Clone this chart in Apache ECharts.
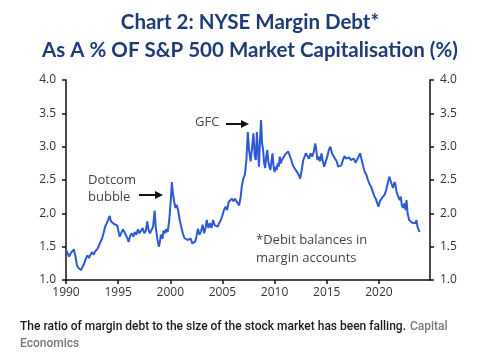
<!DOCTYPE html>
<html><head><meta charset="utf-8">
<script src="https://cdn.jsdelivr.net/npm/echarts@6/dist/echarts.min.js"></script>
<style>html,body{margin:0;padding:0;background:#fff;}#c{width:500px;height:360px;}</style>
</head><body><div id="c"></div>
<script>
var years = [1990.0,1990.1,1990.3,1990.45,1990.6,1990.75,1990.9,1991.05,1991.2,1991.3,1991.45,1991.6,1991.75,1991.9,1992.05,1992.2,1992.35,1992.5,1992.65,1992.8,1993.0,1993.15,1993.3,1993.45,1993.6,1993.75,1993.9,1994.05,1994.2,1994.3,1994.45,1994.6,1994.75,1994.9,1995.05,1995.15,1995.3,1995.45,1995.6,1995.75,1995.9,1996.0,1996.15,1996.3,1996.45,1996.6,1996.75,1996.9,1997.05,1997.2,1997.35,1997.5,1997.65,1997.8,1997.9,1998.05,1998.2,1998.35,1998.5,1998.6,1998.75,1998.9,1999.0,1999.1,1999.25,1999.35,1999.5,1999.6,1999.75,1999.9,2000.05,2000.15,2000.25,2000.4,2000.5,2000.6,2000.75,2000.9,2001.05,2001.2,2001.35,2001.5,2001.65,2001.8,2001.95,2002.1,2002.25,2002.4,2002.5,2002.65,2002.8,2002.95,2003.1,2003.25,2003.4,2003.5,2003.65,2003.8,2003.95,2004.1,2004.25,2004.4,2004.55,2004.7,2004.85,2005.0,2005.15,2005.3,2005.45,2005.6,2005.75,2005.9,2006.05,2006.2,2006.35,2006.5,2006.6,2006.75,2006.85,2007.0,2007.15,2007.3,2007.43,2007.55,2007.7,2007.85,2007.97,2008.1,2008.2,2008.3,2008.4,2008.5,2008.6,2008.7,2008.8,2008.9,2009.0,2009.1,2009.2,2009.3,2009.4,2009.5,2009.6,2009.7,2009.8,2009.9,2010.0,2010.1,2010.2,2010.3,2010.4,2010.5,2010.6,2010.7,2010.85,2011.0,2011.15,2011.3,2011.45,2011.6,2011.75,2011.9,2012.0,2012.15,2012.3,2012.45,2012.6,2012.75,2012.9,2013.0,2013.15,2013.3,2013.45,2013.6,2013.75,2013.9,2014.0,2014.1,2014.25,2014.35,2014.5,2014.6,2014.75,2014.9,2015.05,2015.2,2015.35,2015.5,2015.65,2015.8,2015.95,2016.1,2016.25,2016.4,2016.55,2016.7,2016.85,2017.0,2017.15,2017.3,2017.45,2017.6,2017.75,2017.9,2018.05,2018.2,2018.35,2018.5,2018.65,2018.8,2018.95,2019.1,2019.25,2019.4,2019.55,2019.7,2019.85,2019.95,2020.1,2020.25,2020.4,2020.55,2020.7,2020.85,2021.0,2021.1,2021.2,2021.35,2021.5,2021.6,2021.7,2021.85,2022.0,2022.1,2022.2,2022.3,2022.45,2022.55,2022.65,2022.75,2022.9,2023.05,2023.2,2023.35,2023.5,2023.6,2023.7,2023.8,2023.9];
var ratio = [1.45,1.42,1.35,1.40,1.38,1.46,1.36,1.22,1.18,1.20,1.15,1.20,1.25,1.32,1.37,1.33,1.38,1.42,1.38,1.43,1.46,1.48,1.57,1.62,1.70,1.80,1.85,1.88,1.96,1.88,1.86,1.84,1.86,1.82,1.85,1.65,1.66,1.76,1.72,1.74,1.62,1.57,1.66,1.70,1.65,1.72,1.68,1.76,1.70,1.68,1.78,1.70,1.74,1.88,1.76,1.70,1.72,1.80,2.04,1.80,1.62,1.50,1.57,1.68,1.62,1.74,1.70,1.76,1.72,1.90,2.20,2.47,2.30,2.15,2.08,2.13,2.05,1.90,1.80,1.70,1.63,1.65,1.60,1.58,1.62,1.55,1.54,1.58,1.65,1.77,1.68,1.73,1.83,1.70,1.80,1.90,1.78,1.85,1.78,1.90,1.82,1.85,1.80,1.86,1.90,1.97,2.05,2.10,2.05,2.17,2.15,2.22,2.18,2.22,2.18,2.20,2.12,2.25,2.40,2.52,2.58,2.80,3.22,2.95,2.78,3.00,3.20,2.85,2.80,3.22,2.95,2.70,3.10,3.40,3.05,2.95,2.75,2.68,2.85,2.95,2.78,2.70,2.65,2.78,2.90,2.70,2.62,2.70,2.65,2.75,2.70,2.85,2.75,2.80,2.78,2.88,2.85,2.93,2.90,2.80,2.72,2.68,2.65,2.62,2.58,2.52,2.65,2.80,2.82,2.90,2.87,2.82,2.90,2.85,2.92,3.05,2.95,2.80,2.85,2.78,2.90,2.80,2.70,2.72,2.85,2.95,3.00,2.90,2.88,2.82,2.78,2.70,2.68,2.72,2.80,2.86,2.82,2.80,2.84,2.80,2.78,2.82,2.76,2.80,2.85,2.90,2.80,2.70,2.62,2.58,2.50,2.44,2.40,2.33,2.26,2.22,2.15,2.10,2.18,2.22,2.20,2.28,2.35,2.45,2.55,2.50,2.45,2.38,2.47,2.42,2.32,2.25,2.20,2.25,2.12,2.08,2.15,2.05,2.20,2.00,1.90,1.88,1.86,1.88,1.85,1.90,1.80,1.76,1.72];
var xTicks = [1990,1995,2000,2005,2010,2015,2020];
var yTicks = [1.0,1.5,2.0,2.5,3.0,3.5,4.0];
var titleLines = ['Chart 2: NYSE Margin Debt*','As A % OF S&P 500 Market Capitalisation (%)'];
var captionMain = 'The ratio of margin debt to the size of the stock market has been falling.';
var captionSource = ['Capital','Economics'];

var seriesData = years.map(function(y,i){return [y, ratio[i]];});
var chart = echarts.init(document.getElementById('c'), null, {renderer:'canvas'});
var axisCommon = {
  type:'value', min:1, max:4, interval:0.5,
  axisLine:{show:true,lineStyle:{color:'#111',width:1.5}},
  axisTick:{show:true,length:4,lineStyle:{color:'#111',width:1.5}},
  splitLine:{show:false},
  axisLabel:{color:'#333',fontSize:12,fontFamily:'Open Sans',margin:10,formatter:function(v){return v.toFixed(1);}}
};
var tf = 'Lato';
chart.setOption({
  animation:false,
  grid:{left:66,right:70,top:80,bottom:80},
  xAxis:{type:'value',min:1990,max:2024.9,interval:5,
    axisLine:{show:true,lineStyle:{color:'#111',width:1.5}},
    axisTick:{show:true,length:4,lineStyle:{color:'#111',width:1.5}},
    splitLine:{show:false},
    axisLabel:{color:'#333',fontSize:12,fontFamily:'Open Sans',margin:7,showMaxLabel:false,
      formatter:function(v){return xTicks.indexOf(Math.round(v))>=0?String(Math.round(v)):'';}}
  },
  yAxis:[Object.assign({position:'left'},axisCommon),Object.assign({position:'right'},axisCommon)],
  series:[{type:'line',data:seriesData,showSymbol:false,lineStyle:{color:'#2d5ad4',width:2},yAxisIndex:0}],
  graphic:[
    {type:'text',left:'center',top:12,style:{text:titleLines[0],fill:'#1e3a78',font:'bold 20.5px '+tf}},
    {type:'text',left:'center',top:40,style:{text:titleLines[1],fill:'#1e3a78',font:'bold 20.5px '+tf}},
    {type:'text',left:88,top:172,style:{text:'Dotcom\nbubble',fill:'#444',font:'13px Open Sans',lineHeight:17,align:'center',x:23}},
    {type:'line',shape:{x1:139,y1:195,x2:157,y2:195},style:{stroke:'#111',lineWidth:2}},
    {type:'polygon',shape:{points:[[163,195],[155,191],[155,199]]},style:{fill:'#111'}},
    {type:'text',left:195,top:116,style:{text:'GFC',fill:'#444',font:'13px Open Sans'}},
    {type:'line',shape:{x1:226,y1:124,x2:243,y2:124},style:{stroke:'#111',lineWidth:2}},
    {type:'polygon',shape:{points:[[249,124],[241,120],[241,128]]},style:{fill:'#111'}},
    {type:'text',left:256,top:231,style:{text:'*Debit balances in\nmargin accounts',fill:'#444',font:'13px Open Sans',lineHeight:18}},
    {type:'text',left:20,top:321,style:{text:captionMain,fill:'#1a1a1a',font:'500 12px Roboto'}},
    {type:'text',left:410,top:321,style:{text:captionSource[0],fill:'#777',font:'500 12px Roboto'}},
    {type:'text',left:20,top:338,style:{text:captionSource[1],fill:'#777',font:'500 12px Roboto'}}
  ]
});
</script></body></html>
